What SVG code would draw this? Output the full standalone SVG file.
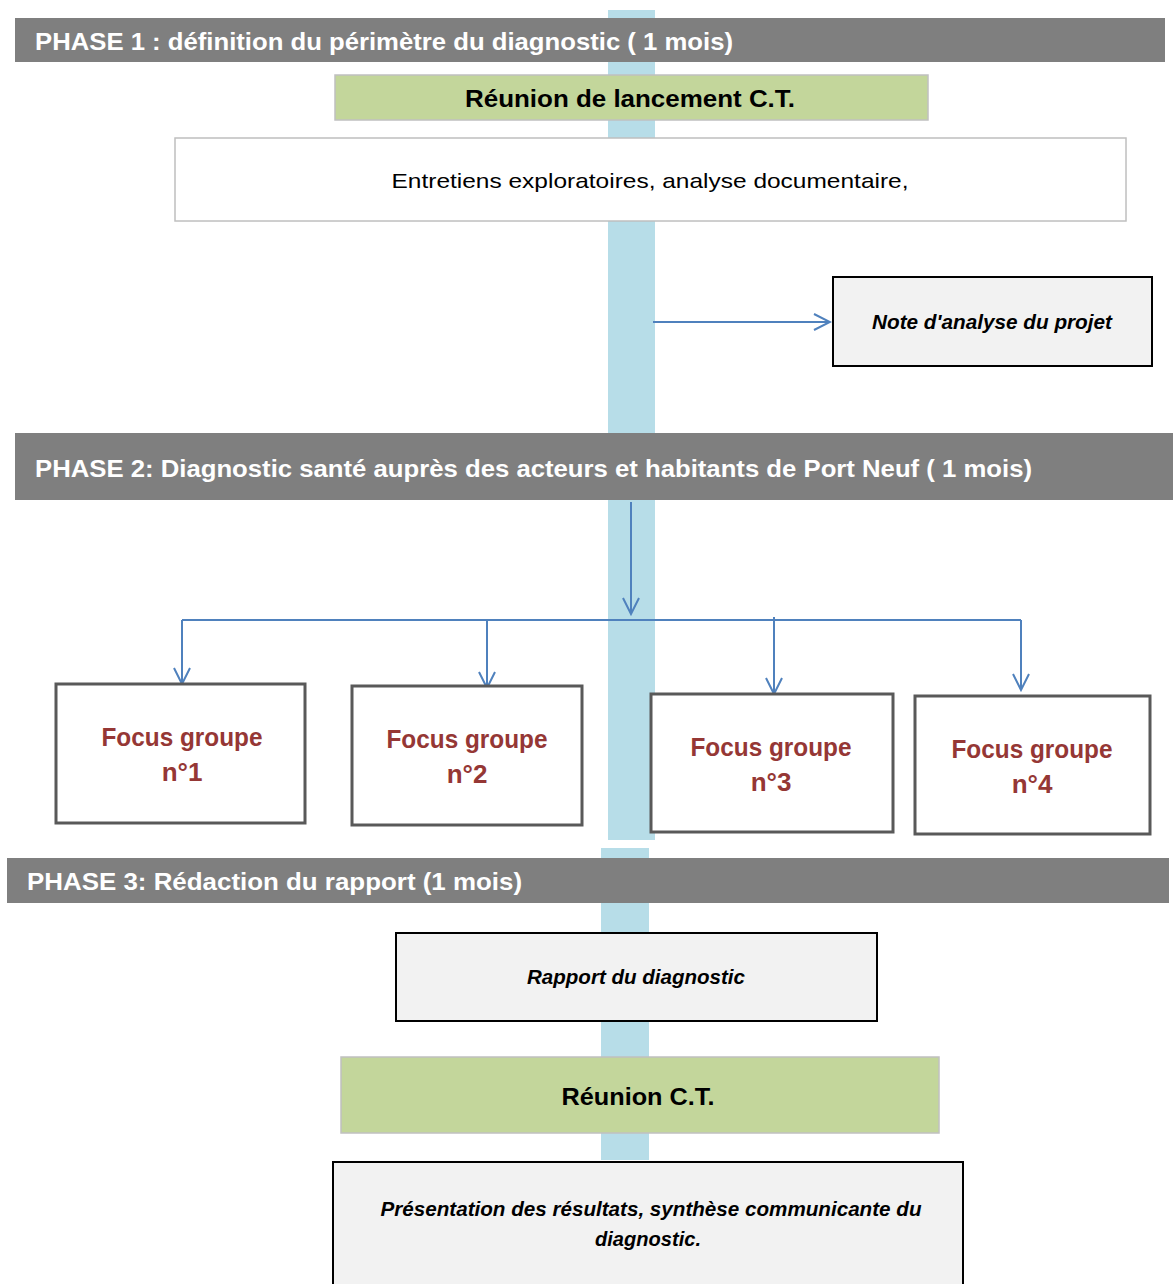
<svg xmlns="http://www.w3.org/2000/svg" width="1173" height="1284" viewBox="0 0 1173 1284">
<defs>
<style>
.bar{fill:#b7dde8}
.phase{fill:#7f7f7f}
.ph{fill:#fff;font-family:"Liberation Sans",Arial,sans-serif;font-weight:bold;font-size:24px}
.green{fill:#c3d69b;stroke:#c0c0c0;stroke-width:1.5}
.gt{fill:#000;font-family:"Liberation Sans",Arial,sans-serif;font-weight:bold;font-size:24px;text-anchor:middle}
.doc{fill:#f2f2f2;stroke:#000;stroke-width:2}
.it{fill:#000;font-family:"Liberation Sans",Arial,sans-serif;font-weight:bold;font-style:italic;font-size:21px;text-anchor:middle}
.focus{fill:#fff;stroke:#595959;stroke-width:3}
.ft{fill:#953735;font-family:"Liberation Sans",Arial,sans-serif;font-weight:bold;font-size:26px;text-anchor:middle}
.con{fill:none;stroke:#4f81bd;stroke-width:2}
</style>
<marker id="arr" viewBox="0 0 20 20" refX="18" refY="10" markerWidth="20" markerHeight="20" markerUnits="userSpaceOnUse" orient="auto">
<path d="M2,2 L18,10 L2,18" fill="none" stroke="#4f81bd" stroke-width="2"/>
</marker>
</defs>
<rect width="1173" height="1284" fill="#fff"/>
<g id="timeline">
<rect class="bar" x="608" y="10" width="47" height="830"/>
<rect class="bar" x="601" y="848" width="48" height="312"/>
</g>
<g id="phase1">
<rect class="phase" x="15" y="18" width="1150" height="44"/>
<text class="ph" x="35" y="50" textLength="698" lengthAdjust="spacingAndGlyphs">PHASE  1  : définition du périmètre du diagnostic ( 1 mois)</text>
</g>
<g id="reunion-lancement">
<rect class="green" x="335" y="75" width="593" height="45"/>
<text class="gt" x="630" y="107" textLength="330" lengthAdjust="spacingAndGlyphs">Réunion de lancement  C.T.</text>
</g>
<g id="entretiens">
<rect x="175" y="138" width="951" height="83" fill="#fff" stroke="#bfbfbf" stroke-width="1.5"/>
<text x="650" y="188" font-family="'Liberation Sans',Arial,sans-serif" font-size="21" text-anchor="middle" textLength="517" lengthAdjust="spacingAndGlyphs">Entretiens  exploratoires, analyse documentaire,</text>
</g>
<g id="note">
<rect class="doc" x="833" y="277" width="319" height="89"/>
<text class="it" x="992" y="329" textLength="240" lengthAdjust="spacingAndGlyphs">Note d'analyse du projet</text>
</g>
<g id="phase2">
<rect class="phase" x="15" y="433" width="1158" height="67"/>
<text class="ph" x="35" y="477" textLength="997" lengthAdjust="spacingAndGlyphs">PHASE  2:  Diagnostic santé auprès des acteurs et  habitants de Port Neuf ( 1  mois)</text>
</g>
<g id="connectors">
<line class="con" x1="653" y1="322" x2="830" y2="322" marker-end="url(#arr)"/>
<line class="con" x1="631" y1="502" x2="631" y2="614" marker-end="url(#arr)"/>
<line class="con" x1="182" y1="620" x2="1021" y2="620"/>
<line class="con" x1="182" y1="620" x2="182" y2="684" marker-end="url(#arr)"/>
<line class="con" x1="487" y1="620" x2="487" y2="688" marker-end="url(#arr)"/>
<line class="con" x1="774" y1="617" x2="774" y2="694" marker-end="url(#arr)"/>
<line class="con" x1="1021" y1="620" x2="1021" y2="690" marker-end="url(#arr)"/>
</g>
<g id="focus1">
<rect class="focus" x="56" y="684" width="249" height="139"/>
<text class="ft" x="182" y="746" textLength="161" lengthAdjust="spacingAndGlyphs">Focus groupe</text>
<text class="ft" x="182" y="781">n°1</text>
</g>
<g id="focus2">
<rect class="focus" x="352" y="686" width="230" height="139"/>
<text class="ft" x="467" y="748" textLength="161" lengthAdjust="spacingAndGlyphs">Focus groupe</text>
<text class="ft" x="467" y="783">n°2</text>
</g>
<g id="focus3">
<rect class="focus" x="651" y="694" width="242" height="138"/>
<text class="ft" x="771" y="756" textLength="161" lengthAdjust="spacingAndGlyphs">Focus groupe</text>
<text class="ft" x="771" y="791">n°3</text>
</g>
<g id="focus4">
<rect class="focus" x="915" y="696" width="235" height="138"/>
<text class="ft" x="1032" y="758" textLength="161" lengthAdjust="spacingAndGlyphs">Focus groupe</text>
<text class="ft" x="1032" y="793">n°4</text>
</g>
<g id="phase3">
<rect class="phase" x="7" y="858" width="1162" height="45"/>
<text class="ph" x="27" y="890" textLength="495" lengthAdjust="spacingAndGlyphs">PHASE  3:  Rédaction du rapport (1 mois)</text>
</g>
<g id="rapport">
<rect class="doc" x="396" y="933" width="481" height="88"/>
<text class="it" x="636" y="984" textLength="218" lengthAdjust="spacingAndGlyphs">Rapport  du  diagnostic</text>
</g>
<g id="reunion-ct">
<rect class="green" x="341" y="1057" width="598" height="76"/>
<text class="gt" x="638" y="1105" textLength="153" lengthAdjust="spacingAndGlyphs">Réunion C.T.</text>
</g>
<g id="presentation">
<rect class="doc" x="333" y="1162" width="630" height="130"/>
<text class="it" x="651" y="1216" textLength="541" lengthAdjust="spacingAndGlyphs">Présentation des résultats, synthèse communicante du</text>
<text class="it" x="648" y="1246" textLength="106" lengthAdjust="spacingAndGlyphs">diagnostic.</text>
</g>
</svg>
